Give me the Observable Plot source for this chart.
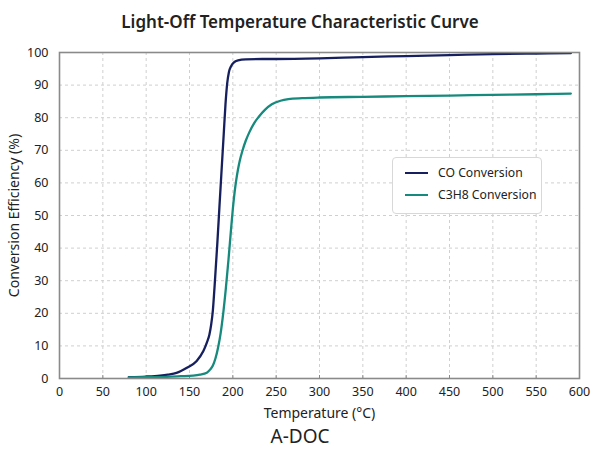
<!DOCTYPE html>
<html>
<head>
<meta charset="utf-8">
<script src="https://cdn.jsdelivr.net/npm/d3@7"></script>
<script src="https://cdn.jsdelivr.net/npm/@observablehq/plot@0.6"></script>
<style>
  html, body { margin: 0; padding: 0; background: #fff; }
  body { width: 600px; height: 450px; overflow: hidden; font-family: "Noto Sans", "Open Sans", sans-serif; color: #222; position: relative; }
  #title { height: 40px; line-height: 44px; text-align: center; font-size: 17px; font-weight: 600; color: #222; }
  #chart { position: relative; height: 385px; }
  #caption { height: 25px; line-height: 22px; text-align: center; font-size: 19px; font-weight: 400; color: #222; }
  #legend { position: absolute; left: 392px; top: 117px; width: 148px; height: 55px; border: 1px solid #d8d8d8; border-radius: 4px; background: #fff; font-size: 12.2px; white-space: nowrap; }
  .item { position: absolute; left: 12px; display: flex; align-items: center; white-space: nowrap; }
  .swatch { width: 23px; height: 0; border-top: 2.5px solid; margin-right: 10px; flex: none; }
</style>
</head>
<body>
<div id="title">Light-Off Temperature Characteristic Curve</div>
<div id="chart"></div>
<div id="caption">A-DOC</div>
<script>
const seriesNames = ["CO Conversion", "C3H8 Conversion"];
const seriesColors = ["#16205e", "#178a7e"];

const coTemp = [80, 100, 116, 125, 135, 147, 158, 166, 170, 173, 175, 177, 179, 182, 184.5, 187, 189.5, 191.5, 193.5, 195.5, 198, 201, 206, 215, 234, 250, 300, 350, 400, 450, 500, 550, 590];
const coValue = [0.4, 0.6, 0.9, 1.2, 1.7, 3.3, 5.3, 8.4, 11, 13.5, 16.5, 21, 28.5, 41, 52.5, 63.8, 75, 84, 90.5, 94, 95.8, 96.9, 97.6, 97.9, 98.0, 98.0, 98.2, 98.6, 98.9, 99.2, 99.5, 99.7, 99.8];

const c3Temp = [80, 100, 124, 140, 154, 162, 170, 174, 177, 180, 183, 186, 189, 192, 195, 198, 200, 202, 204, 206, 208, 211, 215, 219, 225, 230, 237, 245, 255, 264, 280, 300, 350, 400, 450, 500, 550, 590];
const c3Value = [0.3, 0.4, 0.5, 0.7, 0.9, 1.2, 1.8, 2.8, 4, 6.2, 9.5, 14, 20.2, 27.8, 36.5, 46, 52, 57, 61, 64.2, 66.8, 69.8, 73, 75.5, 78.5, 80.3, 82.4, 84.1, 85.2, 85.7, 86.0, 86.2, 86.4, 86.6, 86.8, 87, 87.2, 87.4];

const xTicks = d3.range(0, 601, 50);
const yTicks = d3.range(0, 101, 10);

const data = [
  ...coTemp.map((t, i) => ({series: seriesNames[0], t, v: coValue[i]})),
  ...c3Temp.map((t, i) => ({series: seriesNames[1], t, v: c3Value[i]}))
];

const plot = Plot.plot({
  width: 600,
  height: 385,
  marginTop: 12,
  marginBottom: 47,
  marginLeft: 59,
  marginRight: 21,
  style: {fontFamily: '"Noto Sans", "Open Sans", sans-serif', fontSize: "12.5px", color: "#222", background: "#fff"},
  x: {domain: [0, 600], ticks: xTicks, label: null},
  y: {domain: [0, 100], ticks: yTicks, label: null},
  color: {domain: seriesNames, range: seriesColors},
  marks: [
    Plot.gridX(xTicks, {stroke: "#cfcfcf", strokeOpacity: 1, strokeDasharray: "3,3"}),
    Plot.gridY(yTicks, {stroke: "#cfcfcf", strokeOpacity: 1, strokeDasharray: "3,3"}),
    Plot.axisX(xTicks, {tickSize: -3, tickPadding: 12, stroke: "#888", fontSize: 12.5}),
    Plot.axisY(yTicks, {tickSize: 0, tickPadding: 11, fontSize: 12.5}),
    Plot.axisX({anchor: "bottom", ticks: [], label: "Temperature (°C)", labelAnchor: "center", labelArrow: "none", labelOffset: 39, fontSize: 14}),
    Plot.axisY({anchor: "left", ticks: [], label: "Conversion Efficiency (%)", labelAnchor: "center", labelArrow: "none", labelOffset: 50, fontSize: 14}),
    Plot.line(data, {x: "t", y: "v", z: "series", stroke: "series", strokeWidth: 2.3, curve: "monotone-x"}),
    Plot.frame({stroke: "#8a8a8a", strokeWidth: 1.6})
  ]
});
document.getElementById("chart").appendChild(plot);

const legend = document.createElement("div");
legend.id = "legend";
seriesNames.forEach((name, i) => {
  const item = document.createElement("div");
  item.className = "item";
  item.style.top = (i === 0 ? 6 : 28) + "px";
  const sw = document.createElement("span");
  sw.className = "swatch";
  sw.style.borderTopColor = seriesColors[i];
  const label = document.createElement("span");
  label.textContent = name;
  item.appendChild(sw);
  item.appendChild(label);
  legend.appendChild(item);
});
document.getElementById("chart").appendChild(legend);
</script>
</body>
</html>
